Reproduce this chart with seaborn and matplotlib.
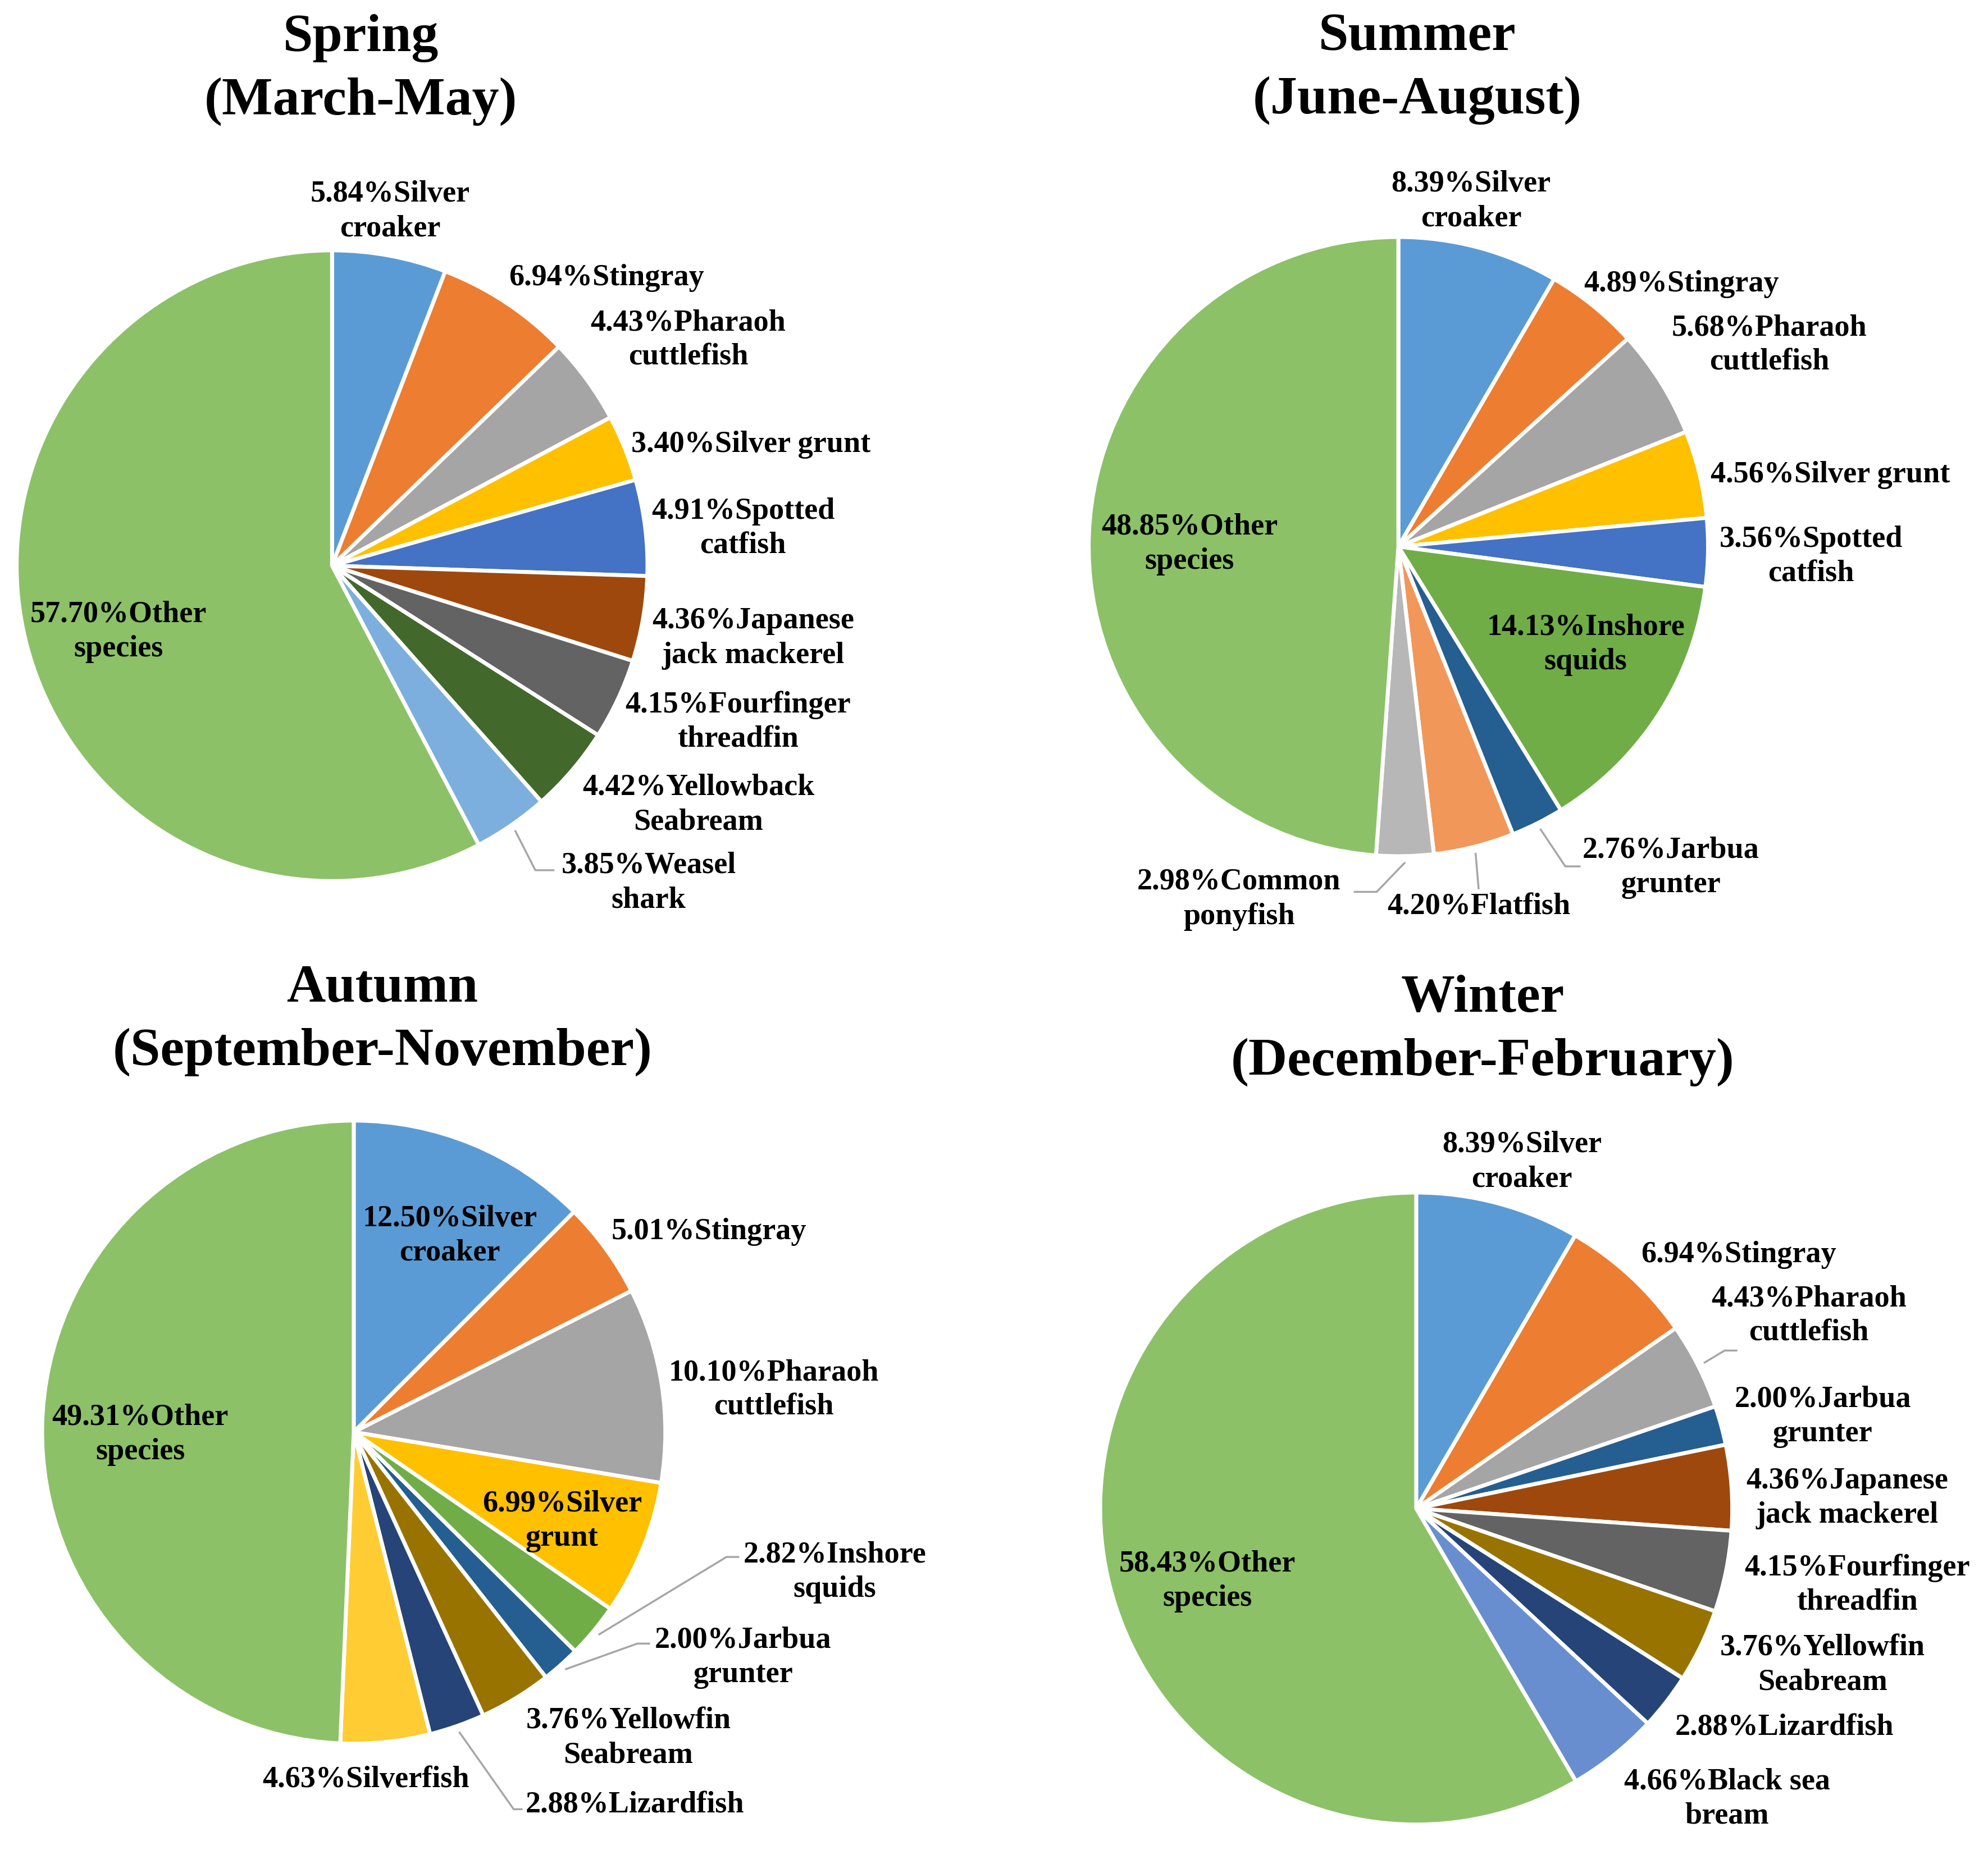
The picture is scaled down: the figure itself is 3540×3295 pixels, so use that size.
import matplotlib
matplotlib.use("Agg")
import matplotlib.pyplot as plt
import seaborn as sns
import numpy as np

sns.set_theme(style="white")
plt.rcParams["font.family"] = ["Liberation Serif", "DejaVu Serif"]
plt.rcParams["font.weight"] = "bold"
plt.rcParams["text.color"] = "black"

# ---------------- data ----------------
spring_species = ["Silver\ncroaker", "Stingray", "Pharaoh\ncuttlefish", "Silver grunt",
                  "Spotted\ncatfish", "Japanese\njack mackerel", "Fourfinger\nthreadfin",
                  "Yellowback\nSeabream", "Weasel\nshark", "Other\nspecies"]
spring_values = [5.84, 6.94, 4.43, 3.40, 4.91, 4.36, 4.15, 4.42, 3.85, 57.70]

summer_species = ["Silver\ncroaker", "Stingray", "Pharaoh\ncuttlefish", "Silver grunt",
                  "Spotted\ncatfish", "Inshore\nsquids", "Jarbua\ngrunter", "Flatfish",
                  "Common\nponyfish", "Other\nspecies"]
summer_values = [8.39, 4.89, 5.68, 4.56, 3.56, 14.13, 2.76, 4.20, 2.98, 48.85]

autumn_species = ["Silver\ncroaker", "Stingray", "Pharaoh\ncuttlefish", "Silver\ngrunt",
                  "Inshore\nsquids", "Jarbua\ngrunter", "Yellowfin\nSeabream", "Lizardfish",
                  "Silverfish", "Other\nspecies"]
autumn_values = [12.50, 5.01, 10.10, 6.99, 2.82, 2.00, 3.76, 2.88, 4.63, 49.31]

winter_species = ["Silver\ncroaker", "Stingray", "Pharaoh\ncuttlefish", "Jarbua\ngrunter",
                  "Japanese\njack mackerel", "Fourfinger\nthreadfin", "Yellowfin\nSeabream",
                  "Lizardfish", "Black sea\nbream", "Other\nspecies"]
winter_values = [8.39, 6.94, 4.43, 2.00, 4.36, 4.15, 3.76, 2.88, 4.66, 58.43]

titles = ["Spring\n(March-May)", "Summer\n(June-August)",
          "Autumn\n(September-November)", "Winter\n(December-February)"]

# ---------------- styles ----------------
species_colors = {
    "Silver\ncroaker": "#5B9BD5", "Stingray": "#ED7D31", "Pharaoh\ncuttlefish": "#A5A5A5",
    "Silver grunt": "#FFC000", "Silver\ngrunt": "#FFC000", "Spotted\ncatfish": "#4472C4",
    "Japanese\njack mackerel": "#9E480E", "Fourfinger\nthreadfin": "#636363",
    "Yellowback\nSeabream": "#43682B", "Weasel\nshark": "#7CAFDD", "Other\nspecies": "#8CC168",
    "Inshore\nsquids": "#70AD47", "Jarbua\ngrunter": "#255E91", "Flatfish": "#F1975A",
    "Common\nponyfish": "#B7B7B7", "Yellowfin\nSeabream": "#997300", "Lizardfish": "#264478",
    "Silverfish": "#FFCD33", "Black sea\nbream": "#698ED0",
}

# ---------------- layout (on a 1560 x 1452 grid, y downwards) ----------------
W, H = 1560.0, 1452.0
pie_layout = [(260.5, 444, 247.5), (1097, 429, 243), (277.5, 1124, 244.5), (1111, 1184, 248)]
title_pos = [(283, 55), (1112, 54), (300, 801), (1163, 809)]

label_xy = [
    [(306, 166), (476, 218), (540, 267), (589, 349), (583, 415), (591, 501), (579, 567),
     (548, 632), (509, 693), (93, 496)],
    [(1154, 158), (1319, 223), (1388, 271), (1436, 373), (1421, 437), (1244, 506),
     (1311, 681), (1160, 712), (972, 706), (933, 427)],
    [(353, 970), (556, 967), (607, 1091), (441, 1194), (655, 1234), (583, 1301),
     (493, 1364), (498, 1417), (287, 1397), (110, 1126)],
    [(1194, 912), (1364, 985), (1419, 1033), (1430, 1112), (1449, 1176), (1457, 1244),
     (1430, 1307), (1400, 1356), (1355, 1412), (947, 1241)],
]
# leader lines: wedge index -> elbow / end points
leader_xy = [
    {8: [(420, 683), (435, 683)]},
    {6: [(1228, 680), (1240, 680)], 7: [(1160, 698)], 8: [(1080, 700), (1062, 700)]},
    {4: [(570, 1222), (580, 1222)], 5: [(500, 1290), (510, 1290)],
     7: [(403, 1420), (410, 1420)]},
    {2: [(1353, 1060), (1363, 1060)]},
]

LABEL_FS = 39
TITLE_FS = 69
K = 1.6

fig = plt.figure(figsize=(35.41, 32.95), dpi=100)
fig.patch.set_facecolor("white")

seasons = [(spring_species, spring_values), (summer_species, summer_values),
           (autumn_species, autumn_values), (winter_species, winter_values)]

for i, (species, values) in enumerate(seasons):
    cx, cy, r = pie_layout[i]

    def to_pie(p):
        return (p[0] - cx) / r, (cy - p[1]) / r

    rect = [(cx - K * r) / W, 1 - (cy + K * r) / H, 2 * K * r / W, 2 * K * r / H]
    ax = fig.add_axes(rect)
    cols = [species_colors[s] for s in species]
    wedges, _ = ax.pie(values, colors=cols, startangle=90, counterclock=False, radius=1,
                       wedgeprops=dict(edgecolor="white", linewidth=5))
    ax.set_xlim(-K, K)
    ax.set_ylim(-K, K)
    ax.set_aspect("equal")
    ax.axis("off")
    for j, (s, v) in enumerate(zip(species, values)):
        lx, ly = to_pie(label_xy[i][j])
        ax.text(lx, ly, f"{v:.2f}%{s}", ha="center", va="center", multialignment="center",
                fontsize=LABEL_FS, fontweight="bold", color="black", linespacing=1.3,
                clip_on=False)
    for j, pts in leader_xy[i].items():
        w = wedges[j]
        th = np.deg2rad((w.theta1 + w.theta2) / 2)
        pp = [to_pie(p) for p in pts]
        xs = [1.02 * np.cos(th)] + [p[0] for p in pp]
        ys = [1.02 * np.sin(th)] + [p[1] for p in pp]
        ax.plot(xs, ys, color="#A6A6A6", lw=2.5, clip_on=False, solid_capstyle="butt")
    tx, ty = title_pos[i]
    fig.text(tx / W, 1 - ty / H, titles[i], ha="center", va="center",
             multialignment="center", fontsize=TITLE_FS, fontweight="bold",
             color="black", linespacing=1.4)

fig.savefig("out.png", dpi=100, facecolor="white")
